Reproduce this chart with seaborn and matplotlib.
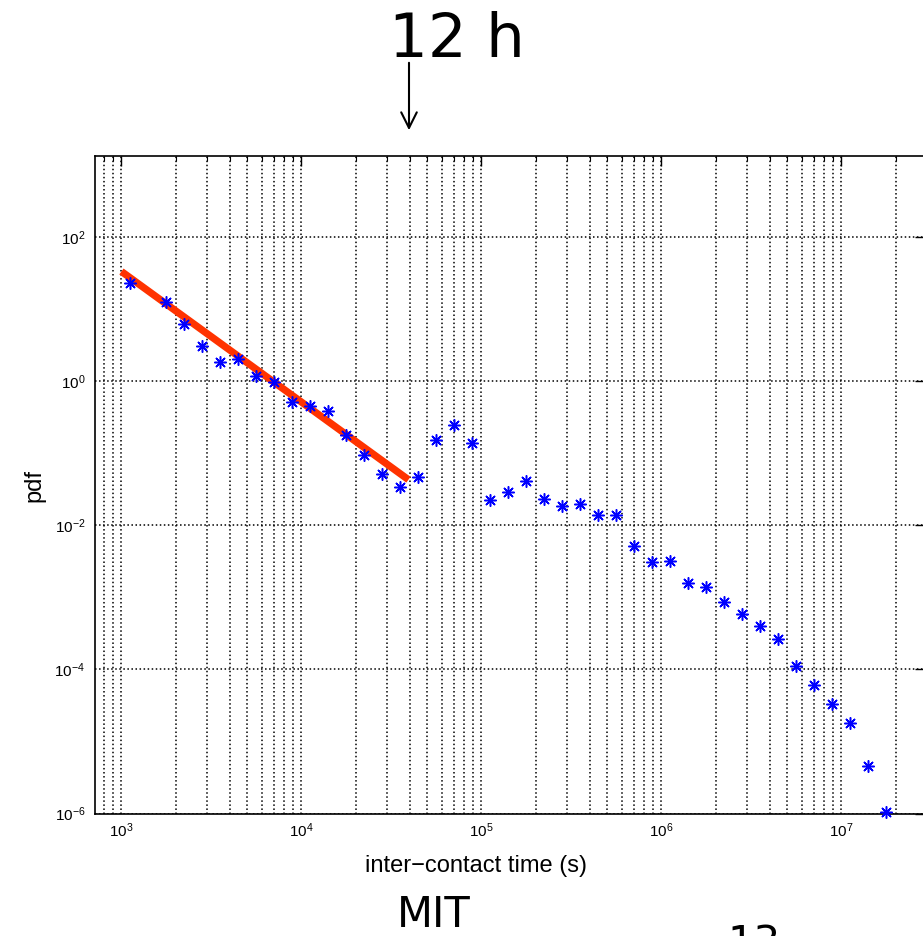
import matplotlib
matplotlib.use("Agg")
import matplotlib.pyplot as plt
import seaborn as sns
import pandas as pd
import numpy as np
from matplotlib.ticker import FixedLocator, FuncFormatter, NullLocator, NullFormatter

# ---- data ----
time_s = [1122, 1778, 2239, 2818, 3548, 4467, 5623, 7079, 8913, 11220,
          14125, 17783, 22387, 28184, 35481, 44668, 56234, 70795, 89125, 112202,
          141254, 177828, 223872, 281838, 354813, 446684, 562341, 707946, 891251, 1.122e6,
          1.413e6, 1.778e6, 2.239e6, 2.818e6, 3.548e6, 4.467e6, 5.623e6, 7.079e6, 8.913e6, 1.122e7,
          1.413e7, 1.778e7]
pdf = [23.1, 12.7, 6.25, 3.08, 1.85, 2.05, 1.18, 0.99, 0.525, 0.455,
       0.386, 0.183, 0.096, 0.052, 0.0343, 0.0471, 0.155, 0.252, 0.139, 0.0229,
       0.0292, 0.0409, 0.0236, 0.0185, 0.0201, 0.0138, 0.0138, 0.0052, 0.00311, 0.00324,
       0.00157, 0.00138, 0.000855, 0.000583, 0.000402, 0.000267, 0.000111, 6.12e-5, 3.34e-5, 1.80e-5,
       4.62e-6, 1.06e-6]
fit_time = [1000, 39300]
fit_pdf = [33.6, 0.0432]
xtick_vals = [1e3, 1e4, 1e5, 1e6, 1e7]
ytick_vals = [1e-6, 1e-4, 1e-2, 1e0, 1e2]
x_label = "inter\u2212contact time (s)"
y_label = "pdf"
annot_text = "12 h"
footer_text = "MIT"
page_text = "13"

df = pd.DataFrame({"time": time_s, "pdf": pdf})
fit = pd.DataFrame({"time": fit_time, "pdf": fit_pdf})

sns.set_style("white")
plt.rcParams["font.family"] = ["Liberation Sans", "DejaVu Sans"]
plt.rcParams["mathtext.default"] = "regular"
plt.rcParams["text.color"] = "black"
plt.rcParams["axes.labelcolor"] = "black"
plt.rcParams["xtick.color"] = "black"
plt.rcParams["ytick.color"] = "black"

W, H = 923, 936
fig = plt.figure(figsize=(W / 100, H / 100), dpi=100)

xmin, xmax = 713, 2.9e7
ymin, ymax = 1e-6, 10 ** 3.13
dec = 180.0
left_px = 95
right_px = left_px + dec * (np.log10(xmax) - np.log10(xmin))
top_px, bottom_px = 156, 813.5
ax = fig.add_axes([left_px / W, 1 - bottom_px / H,
                   (right_px - left_px) / W, (bottom_px - top_px) / H])
ax.set_xscale("log")
ax.set_yscale("log")

sns.lineplot(data=fit, x="time", y="pdf", color="#ff3300", linewidth=5.2,
             solid_capstyle="butt", ax=ax, zorder=4)
sns.scatterplot(data=df, x="time", y="pdf", marker=(8, 2, 0), s=70,
                color="#0000ff", linewidth=1.1, ax=ax, zorder=5, clip_on=False)

ax.set_xlim(xmin, xmax)
ax.set_ylim(ymin, ymax)

ax.xaxis.set_major_locator(FixedLocator(xtick_vals))
ax.xaxis.set_minor_locator(FixedLocator(
    [m * 10.0 ** k for k in range(2, 8) for m in range(2, 10)
     if xmin <= m * 10.0 ** k <= xmax]))
ax.xaxis.set_minor_formatter(NullFormatter())
ax.yaxis.set_major_locator(FixedLocator(ytick_vals))
ax.yaxis.set_minor_locator(NullLocator())
fmt = FuncFormatter(lambda v, p: r"$\mathregular{10^{%d}}$" % int(round(np.log10(v))))
ax.xaxis.set_major_formatter(fmt)
ax.yaxis.set_major_formatter(fmt)

ax.grid(which="major", axis="both", linestyle=":", color="black", linewidth=1.1)
ax.grid(which="minor", axis="x", linestyle=":", color="black", linewidth=1.1)

ax.tick_params(which="both", direction="in", top=True, right=True,
               colors="black", labelsize=11)
ax.tick_params(which="major", length=7, width=1)
ax.tick_params(which="minor", length=3.5, width=0.8)
ax.tick_params(axis="x", which="major", pad=6)
ax.tick_params(axis="y", which="major", pad=7)
for s in ax.spines.values():
    s.set_color("black")
    s.set_linewidth(1.2)
    s.set_visible(True)

ax.set_xlabel(x_label, fontsize=17, color="black")
ax.set_ylabel(y_label, fontsize=17, color="black")
ax.xaxis.set_label_coords((476 - left_px) / (right_px - left_px),
                          -(866 - bottom_px) / (bottom_px - top_px))
ax.xaxis.label.set_va("center")
ax.yaxis.set_label_coords(-(left_px - 34) / (right_px - left_px),
                          0.5 - (485 - (top_px + bottom_px) / 2) / (bottom_px - top_px))
ax.yaxis.label.set_va("center")

fig.text(457 / W, 1 - 57 / H, annot_text, fontsize=44, family="DejaVu Sans",
         ha="center", va="baseline", color="black")
ax.annotate("", xy=(409 / W, 1 - 133 / H), xytext=(409 / W, 1 - 60 / H),
            xycoords="figure fraction", textcoords="figure fraction",
            arrowprops=dict(arrowstyle="->", lw=1.5, color="black",
                            mutation_scale=28))
fig.text(434 / W, 1 - 927 / H, footer_text, fontsize=30, family="DejaVu Sans",
         ha="center", va="baseline", color="black")
fig.text(727 / W, 1 - 957 / H, page_text, fontsize=30, family="DejaVu Sans",
         ha="left", va="baseline", color="black")

fig.savefig("out.png", dpi=100)
